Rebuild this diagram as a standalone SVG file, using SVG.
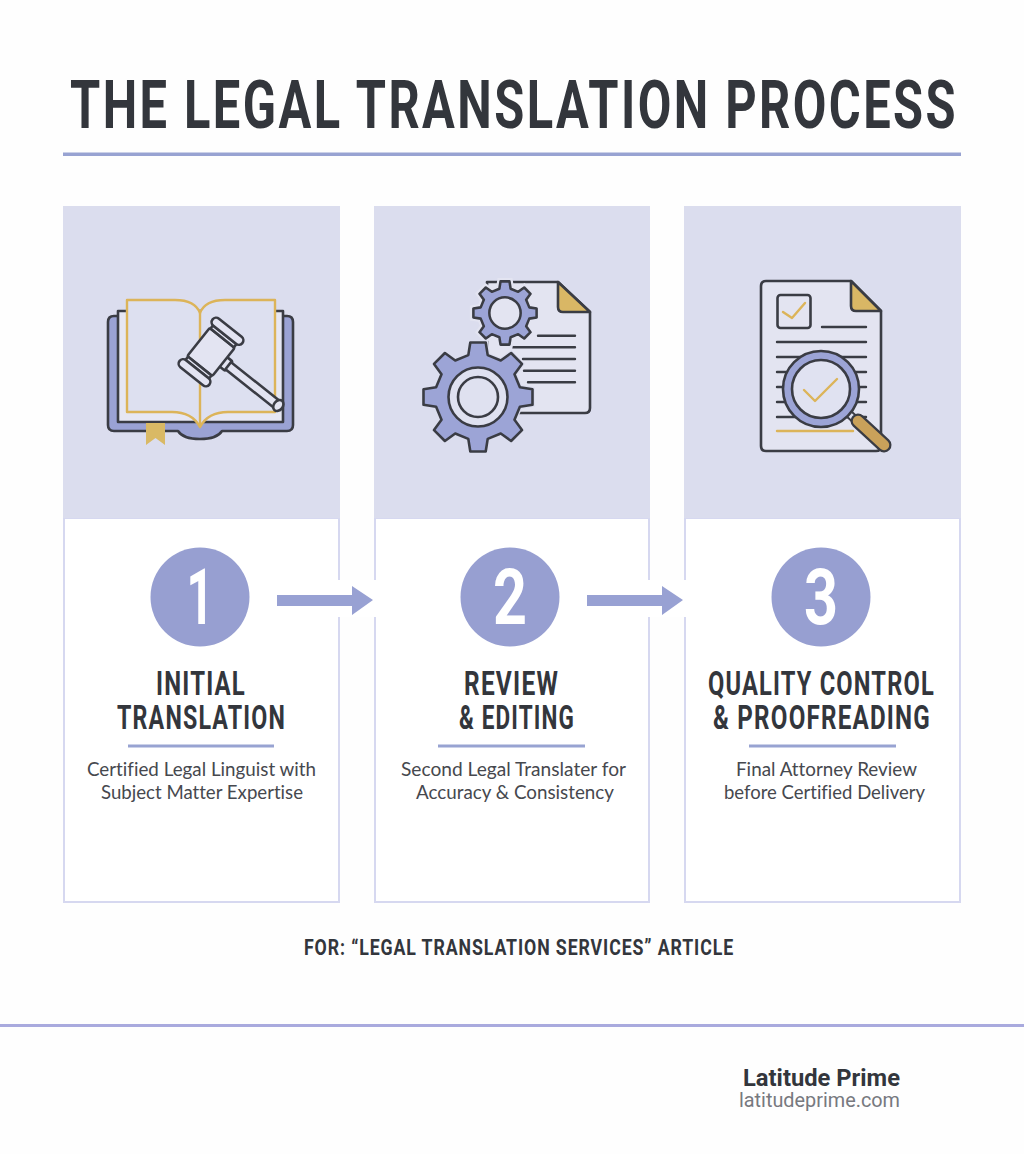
<svg xmlns="http://www.w3.org/2000/svg" width="1024" height="1154" viewBox="0 0 1024 1154">
<style>
.h{font-family:"Roboto","Liberation Sans",sans-serif;font-weight:700;fill:#33363c;letter-spacing:.05em}
.t{font-size:33px}
.d{font-family:"Lato","Open Sans",sans-serif;font-size:18.5px;fill:#46484e;font-variant-ligatures:none}
.n{font-family:"Roboto",sans-serif;font-weight:700;font-size:78px;fill:#fff}
.panel{fill:#dbddee}
.box{fill:#fff;stroke:#d6d8f0;stroke-width:2}
.circ{fill:#979fd1}
.rule{fill:#98a3d2}
.ink{stroke:#3a3c44;stroke-width:2.600;stroke-linecap:round;stroke-linejoin:round}
.line{fill:none;stroke:#3a3c44;stroke-width:2.400;stroke-linecap:round}
.gold{fill:none;stroke:#dcb459;stroke-width:2.400;stroke-linecap:round;stroke-linejoin:round}
.arrow{fill:#98a1d3}
</style>
<defs>
<path id="gear" d="M-9.7-41.9L-7.7-54.5L7.7-54.5L9.7-41.9L22.77-36.49L33.1-43.98L43.98-33.1L36.49-22.77L41.9-9.7L54.5-7.7L54.5,7.7L41.9,9.7L36.49,22.77L43.98,33.1L33.1,43.98L22.77,36.49L9.7,41.9L7.7,54.5L-7.7,54.5L-9.7,41.9L-22.77,36.49L-33.1,43.98L-43.98,33.1L-36.49,22.77L-41.9,9.7L-54.5,7.7L-54.5-7.7L-41.9-9.7L-36.49-22.77L-43.98-33.1L-33.1-43.98L-22.77-36.49Z"/>
</defs>
<rect width="1024" height="1154" fill="#fefefe"/>
<g id="header">
<text class="h" x="70" y="128" font-size="67" textLength="888" lengthAdjust="spacingAndGlyphs">THE LEGAL TRANSLATION PROCESS</text>
<rect class="rule" x="63" y="152.500" width="898" height="3.500"/>
</g>
<g id="step1">
<rect class="box" x="64" y="518" width="275" height="384"/>
<rect class="panel" x="63" y="206" width="277" height="312"/>
<g id="icon-book">
<path d="M108 322Q108 316 114 316H287Q293 316 293 322V425Q293 431 287 431H222Q217 439 200 439Q183 439 178 431H114Q108 431 108 425Z" fill="#9aa2d4" class="ink"/>
<rect x="118" y="311" width="165" height="111" fill="#e6e7f3" class="ink"/>
<path d="M146 423H165V445L155.500 438L146 445Z" fill="#d9b965"/>
<path d="M127 300H175Q195 300 200 313Q205 300 225 300H275V412H228Q208 412 200 427Q192 412 172 412H127Z" fill="#dde0f0" stroke="#dcb459" stroke-width="2.400" stroke-linejoin="round"/>
<path d="M200 313V427" class="gold"/>
<g transform="translate(211 352) rotate(38.500)" fill="#e3e4f2" class="ink">
<rect x="15" y="-6" width="8" height="12" rx="2"/>
<rect x="22" y="-4.500" width="64" height="9"/>
<ellipse cx="86" cy="0" rx="4.500" ry="6"/>
<rect x="-16" y="-18" width="32" height="36" rx="2"/>
<rect x="-15" y="-22" width="30" height="4"/>
<rect x="-15" y="18" width="30" height="4"/>
<rect x="-19" y="-31" width="38" height="9" rx="4.500"/>
<rect x="-19" y="22" width="38" height="9" rx="4.500"/>
</g>
</g>
<circle class="circ" cx="200" cy="597" r="49.500"/>
<text class="n" x="200" y="624" text-anchor="middle" textLength="27" lengthAdjust="spacingAndGlyphs">1</text>
<text class="h t" x="156" y="695" textLength="90" lengthAdjust="spacingAndGlyphs">INITIAL</text>
<text class="h t" x="117" y="729" textLength="169" lengthAdjust="spacingAndGlyphs">TRANSLATION</text>
<rect class="rule" x="128" y="744.500" width="146" height="3"/>
<text class="d" x="87" y="776" textLength="229" lengthAdjust="spacingAndGlyphs">Certified Legal Linguist with</text>
<text class="d" x="101" y="799" textLength="202" lengthAdjust="spacingAndGlyphs">Subject Matter Expertise</text>
</g>
<g id="step2">
<rect class="box" x="375" y="518" width="274" height="384"/>
<rect class="panel" x="374" y="206" width="276" height="312"/>
<g id="icon-gears">
<path d="M487 282H558L590 312V408Q590 413 585 413H500Q487 413 487 400Z" fill="#e3e4f1" class="ink"/>
<path d="M558 282L590 312H563Q558 312 558 307Z" fill="#d9b765" class="ink"/>
<path class="line" d="M538 335.700H575M513 347.300H575M523 359H575M524 370.700H575M528 382.300H575"/>
<g transform="translate(505 313) scale(.58)"><use href="#gear" fill="#e3e4f1" stroke="#e3e4f1" stroke-width="12"/><use href="#gear" fill="#9ca4d6" stroke="#3a3c44" stroke-width="4.400" stroke-linejoin="round"/><circle r="27" fill="#e3e4f1" stroke="#3a3c44" stroke-width="4.400"/></g>
<g transform="translate(478 397)"><use href="#gear" fill="#e3e4f1" stroke="#dbddee" stroke-width="5"/><use href="#gear" fill="#9ca4d6" stroke="#3a3c44" stroke-width="2.600" stroke-linejoin="round"/><circle r="29.500" fill="#dfe1f0" stroke="#3a3c44" stroke-width="2.600"/><circle r="20" fill="#dfe1f0" stroke="#3a3c44" stroke-width="2.600"/></g>
</g>
<circle class="circ" cx="510" cy="597" r="49.500"/>
<text class="n" x="510" y="624" text-anchor="middle" textLength="34" lengthAdjust="spacingAndGlyphs">2</text>
<text class="h t" x="464" y="695" textLength="95" lengthAdjust="spacingAndGlyphs">REVIEW</text>
<text class="h t" x="459" y="729" textLength="116" lengthAdjust="spacingAndGlyphs">&amp; EDITING</text>
<rect class="rule" x="438" y="744.500" width="147" height="3"/>
<text class="d" x="401" y="776" textLength="225" lengthAdjust="spacingAndGlyphs">Second Legal Translater for</text>
<text class="d" x="416" y="799" textLength="198" lengthAdjust="spacingAndGlyphs">Accuracy &amp; Consistency</text>
</g>
<g id="step3">
<rect class="box" x="685" y="518" width="275" height="384"/>
<rect class="panel" x="684" y="206" width="277" height="312"/>
<g id="icon-review">
<path d="M766 281H851L881 311V446Q881 451 876 451H766Q761 451 761 446V286Q761 281 766 281Z" fill="#e3e4f1" class="ink"/>
<path d="M851 281L881 311H856Q851 311 851 306Z" fill="#d9b765" class="ink"/>
<rect x="777.500" y="295" width="33" height="33" rx="3" fill="none" class="ink"/>
<path class="gold" d="M783 312L792 318L805 303"/>
<path class="line" d="M822 327H866M777 342H866M777 357H866M777 372H866M777 387H866M777 402H866M777 417H866"/>
<path class="gold" d="M777 431H853"/>
<path d="M848 413L860 424" stroke="#3a3c44" stroke-width="9"/>
<path d="M848 413L860 424" stroke="#dfe1f0" stroke-width="5"/>
<path d="M858 421L884 445" stroke="#3a3c44" stroke-width="15" stroke-linecap="round"/>
<path d="M858 421L884 445" stroke="#c9a15a" stroke-width="10.500" stroke-linecap="round"/>
<circle cx="821" cy="389" r="33.500" fill="#e0e2f1" stroke="#9ca4d6" stroke-width="9"/>
<circle cx="821" cy="389" r="38" fill="none" stroke="#3a3c44" stroke-width="2.600"/>
<circle cx="821" cy="389" r="29" fill="none" stroke="#3a3c44" stroke-width="2.600"/>
<path class="gold" d="M804 390L815 401L837 379"/>
</g>
<circle class="circ" cx="821" cy="597" r="49.500"/>
<text class="n" x="821" y="624" text-anchor="middle" textLength="34" lengthAdjust="spacingAndGlyphs">3</text>
<text class="h t" x="708" y="695" textLength="227" lengthAdjust="spacingAndGlyphs">QUALITY CONTROL</text>
<text class="h t" x="713" y="729" textLength="218" lengthAdjust="spacingAndGlyphs">&amp; PROOFREADING</text>
<rect class="rule" x="749" y="744.500" width="147" height="3"/>
<text class="d" x="736" y="776" textLength="181" lengthAdjust="spacingAndGlyphs">Final Attorney Review</text>
<text class="d" x="724" y="799" textLength="201" lengthAdjust="spacingAndGlyphs">before Certified Delivery</text>
</g>
<g id="connectors">
<rect x="335" y="580" width="44" height="37" fill="#fff"/>
<rect x="645" y="580" width="44" height="37" fill="#fff"/>
<path class="arrow" d="M277 595H352V586L373 600L352 615V606H277Z"/>
<path class="arrow" d="M587 595H662V586L683 600L662 615V606H587Z"/>
</g>
<g id="footer">
<text class="h" x="304" y="955" font-size="22" textLength="430" lengthAdjust="spacingAndGlyphs">FOR: “LEGAL TRANSLATION SERVICES” ARTICLE</text>
<rect x="0" y="1024" width="1024" height="3" fill="#a9aade"/>
<text x="743" y="1086" font-family="Roboto,sans-serif" font-weight="700" font-size="23" fill="#33363c" textLength="157" lengthAdjust="spacingAndGlyphs">Latitude Prime</text>
<text x="739" y="1107" font-family="Roboto,sans-serif" font-size="20" fill="#77797f" textLength="161" lengthAdjust="spacingAndGlyphs">latitudeprime.com</text>
</g>
</svg>
